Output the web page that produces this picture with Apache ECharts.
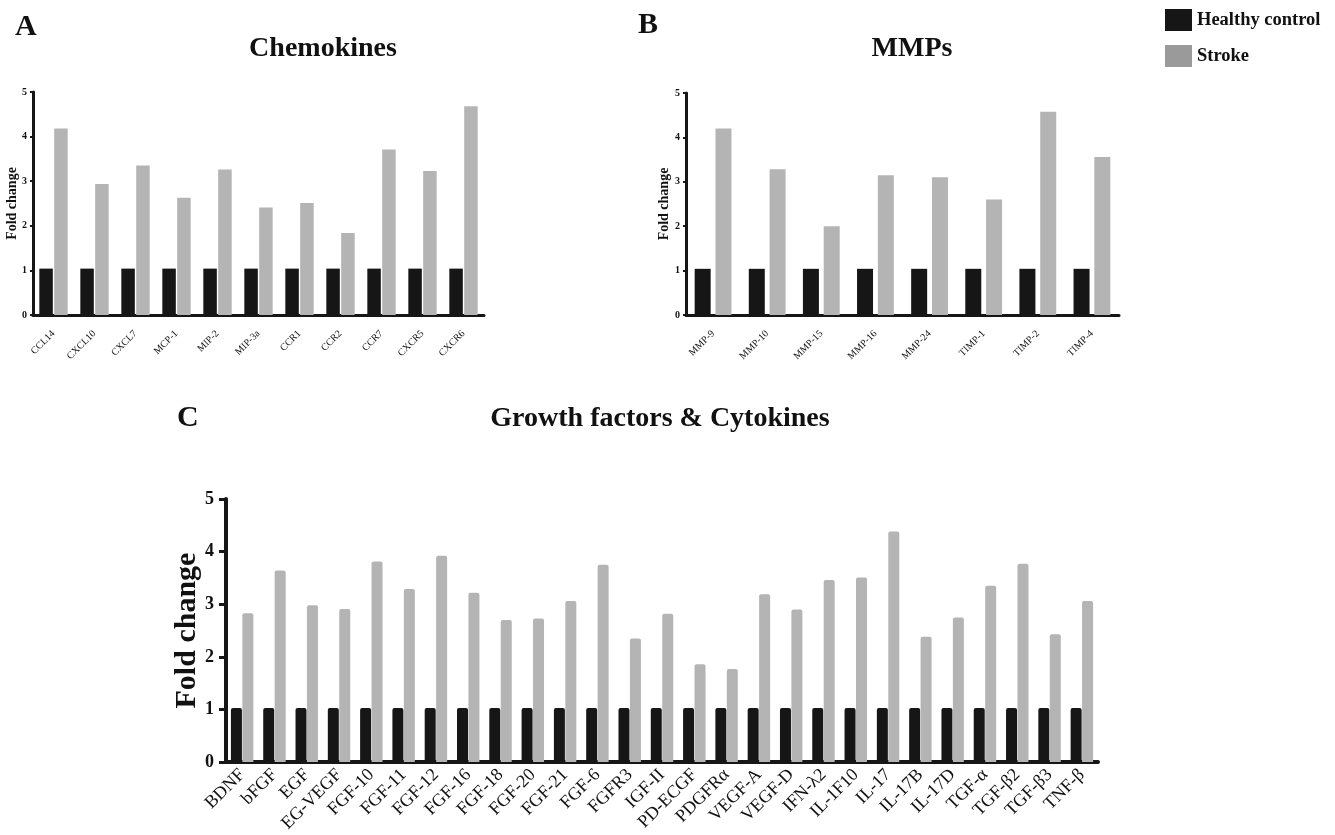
<!DOCTYPE html>
<html>
<head>
<meta charset="utf-8">
<script src="https://cdn.jsdelivr.net/npm/echarts@6/dist/echarts.min.js"></script>
<style>html,body{margin:0;padding:0;background:#fff;}#c{width:1335px;height:835px;}</style>
</head>
<body>
<div id="c"></div>
<script>
const chemCats = ['CCL14','CXCL10','CXCL7','MCP-1','MIP-2','MIP-3a','CCR1','CCR2','CCR7','CXCR5','CXCR6'];
const chemHealthy = [1.04,1.04,1.04,1.04,1.04,1.04,1.04,1.04,1.04,1.04,1.04];
const chemStroke = [4.18,2.94,3.35,2.63,3.26,2.41,2.51,1.84,3.71,3.23,4.68];

const mmpCats = ['MMP-9','MMP-10','MMP-15','MMP-16','MMP-24','TIMP-1','TIMP-2','TIMP-4'];
const mmpHealthy = [1.04,1.04,1.04,1.04,1.04,1.04,1.04,1.04];
const mmpStroke = [4.20,3.28,2.00,3.15,3.10,2.60,4.58,3.56];

const gfCats = ['BDNF','bFGF','EGF','EG-VEGF','FGF-10','FGF-11','FGF-12','FGF-16','FGF-18','FGF-20','FGF-21','FGF-6','FGFR3','IGF-II','PD-ECGF','PDGFRα','VEGF-A','VEGF-D','IFN-λ2','IL-1F10','IL-17','IL-17B','IL-17D','TGF-α','TGF-β2','TGF-β3','TNF-β'];
const gfHealthy = [1.03,1.03,1.03,1.03,1.03,1.03,1.03,1.03,1.03,1.03,1.03,1.03,1.03,1.03,1.03,1.03,1.03,1.03,1.03,1.03,1.03,1.03,1.03,1.03,1.03,1.03,1.03];
const gfStroke = [2.83,3.64,2.98,2.91,3.81,3.29,3.92,3.22,2.70,2.73,3.06,3.75,2.35,2.82,1.86,1.77,3.19,2.90,3.46,3.51,4.38,2.38,2.75,3.35,3.77,2.43,3.06];

const panelTitles = ['Chemokines','MMPs','Growth factors & Cytokines'];
const panelLetters = ['A','B','C'];
const seriesNames = ['Healthy control','Stroke'];

const FONT = '"Liberation Serif", "DejaVu Serif", serif';
const BLACK = '#161616';
const GREY = '#b4b4b4';

function xAxis(gi, cats, small) {
  return {
    type: 'category', gridIndex: gi, data: cats,
    axisLine: {lineStyle: {color: BLACK, width: small ? 3 : 4}},
    axisTick: {alignWithLabel: true, length: small ? 4 : 6, lineStyle: {color: BLACK, width: small ? 2 : 3}},
    axisLabel: {rotate: 45, interval: 0, margin: small ? 17 : 10, color: '#111',
      fontFamily: FONT, fontSize: small ? 10 : 18}
  };
}
function yAxis(gi, small, nameGap) {
  return {
    type: 'value', gridIndex: gi, min: 0, max: 5, interval: 1,
    name: 'Fold change', nameLocation: 'middle', nameRotate: 90, nameGap: nameGap,
    nameMoveOverlap: false,
    nameTextStyle: {fontFamily: FONT, fontWeight: 'bold', fontSize: small ? 14 : 30, color: '#111'},
    axisLine: {show: true, lineStyle: {color: BLACK, width: small ? 3 : 4}},
    axisTick: {show: true, length: small ? 3 : 7, lineStyle: {color: BLACK, width: small ? 2 : 3}},
    axisLabel: {fontFamily: FONT, fontWeight: 'bold', fontSize: small ? 10 : 18, color: '#111', margin: small ? 6 : 12},
    splitLine: {show: false}
  };
}
function bars(gi, healthy, stroke, bw, gap, radius) {
  return [
    {name: seriesNames[0], type: 'bar', xAxisIndex: gi, yAxisIndex: gi, data: healthy,
     barWidth: bw, barGap: gap, itemStyle: {color: BLACK, borderRadius: radius}},
    {name: seriesNames[1], type: 'bar', xAxisIndex: gi, yAxisIndex: gi, data: stroke,
     barWidth: bw, barGap: gap, itemStyle: {color: GREY, borderRadius: radius}}
  ];
}

const chart = echarts.init(document.getElementById('c'), null, {renderer: 'canvas'});
chart.setOption({
  backgroundColor: '#fff',
  animation: false,
  title: [
    {text: panelLetters[0], left: 10, top: 7, textStyle: {fontFamily: FONT, fontWeight: 'bold', fontSize: 30, color: '#111'}},
    {text: panelTitles[0], left: 318, top: 30, textAlign: 'center', textStyle: {fontFamily: FONT, fontWeight: 'bold', fontSize: 28, color: '#111'}},
    {text: panelLetters[1], left: 633, top: 5, textStyle: {fontFamily: FONT, fontWeight: 'bold', fontSize: 30, color: '#111'}},
    {text: panelTitles[1], left: 907, top: 30, textAlign: 'center', textStyle: {fontFamily: FONT, fontWeight: 'bold', fontSize: 28, color: '#111'}},
    {text: panelLetters[2], left: 172, top: 398, textStyle: {fontFamily: FONT, fontWeight: 'bold', fontSize: 30, color: '#111'}},
    {text: panelTitles[2], left: 655, top: 400, textAlign: 'center', textStyle: {fontFamily: FONT, fontWeight: 'bold', fontSize: 28, color: '#111'}}
  ],
  legend: {
    orient: 'vertical', left: 1160, top: 4, itemWidth: 27, itemHeight: 22, itemGap: 14,
    icon: 'rect',
    textStyle: {fontFamily: FONT, fontWeight: 'bold', fontSize: 18.5, color: '#111'},
    data: [
      {name: seriesNames[0], itemStyle: {color: BLACK}},
      {name: seriesNames[1], itemStyle: {color: '#9a9a9a'}}
    ]
  },
  grid: [
    {left: 33, top: 92, width: 451, height: 223},
    {left: 686, top: 93, width: 433, height: 222},
    {left: 226, top: 499, width: 872, height: 268}
  ],
  xAxis: [xAxis(0, chemCats, true), xAxis(1, mmpCats, true), xAxis(2, gfCats, false)],
  yAxis: [yAxis(0, true, 14), yAxis(1, true, 15), yAxis(2, false, 24)],
  series: [].concat(
    bars(0, chemHealthy, chemStroke, 13.5, '10%', 0),
    bars(1, mmpHealthy, mmpStroke, 16, '30%', 0),
    bars(2, gfHealthy, gfStroke, 11, '4%', [2, 2, 0, 0])
  )
});
</script>
</body>
</html>
